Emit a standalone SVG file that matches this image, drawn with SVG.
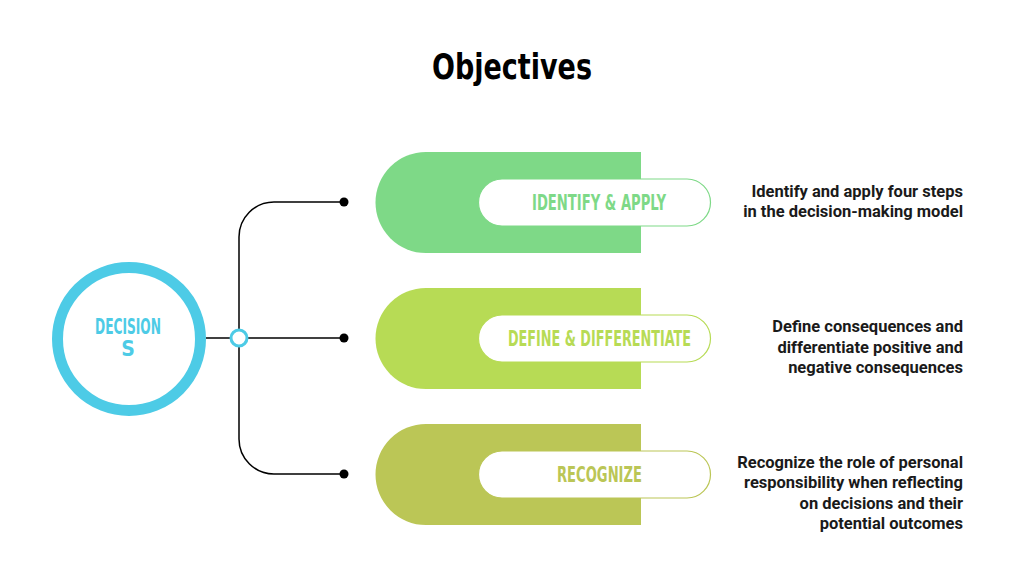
<svg xmlns="http://www.w3.org/2000/svg" width="1024" height="576" viewBox="0 0 1024 576">
<style>
.title{font-family:"Liberation Sans Narrow","DejaVu Sans Condensed","Liberation Sans",sans-serif;font-weight:bold;font-size:35px;fill:#000}
.lbl{font-family:"Liberation Sans Narrow","DejaVu Sans Condensed","Liberation Sans",sans-serif;font-weight:bold;font-size:21px;text-anchor:middle}
.desc{font-family:Roboto,"Liberation Sans",sans-serif;font-weight:bold;font-size:16.5px;fill:#1a1a1a;text-anchor:end}
.pill{fill:#fff;stroke-width:1.2}
.conn{fill:none;stroke:#000;stroke-width:1.5}
.dot{fill:#000}
</style>
<rect width="1024" height="576" fill="#fff"/>
<text class="title" x="512" y="79" text-anchor="middle" textLength="160" lengthAdjust="spacingAndGlyphs">Objectives</text>

<g id="connectors">
<path class="conn" d="M344,202 H274 A35,35 0 0 0 239,237 V439 A35,35 0 0 0 274,474 H344"/>
<path class="conn" d="M206,338 H344"/>
<circle class="dot" cx="344" cy="202" r="4.5"/>
<circle class="dot" cx="344" cy="338" r="4.5"/>
<circle class="dot" cx="344" cy="474" r="4.5"/>
<circle cx="239" cy="338" r="8" fill="#fff" stroke="#4dcbe6" stroke-width="3"/>
</g>

<g id="decisions">
<circle cx="129" cy="339" r="71.5" fill="#fff" stroke="#4dcbe6" stroke-width="11"/>
<text class="lbl" x="128" y="334" fill="#4dcbe6" font-size="18" textLength="66" lengthAdjust="spacingAndGlyphs">DECISION</text>
<text class="lbl" x="128" y="356" fill="#4dcbe6" font-size="18">S</text>
</g>

<g id="identify">
<path d="M426,152 H641 V253 H426 A50.5,50.5 0 0 1 426,152 Z" fill="#7ed987"/>
<rect class="pill" x="478.5" y="179" width="232" height="47" rx="23.5" stroke="#7ed987"/>
<text class="lbl" x="599" y="210" fill="#7ed987" textLength="134" lengthAdjust="spacingAndGlyphs">IDENTIFY &amp; APPLY</text>
<text class="desc" x="963" y="197">Identify and apply four steps</text>
<text class="desc" x="963" y="217">in the decision-making model</text>
</g>

<g id="define">
<path d="M426,288 H641 V389 H426 A50.5,50.5 0 0 1 426,288 Z" fill="#b7db55"/>
<rect class="pill" x="478.5" y="315" width="232" height="47" rx="23.5" stroke="#b7db55"/>
<text class="lbl" x="599.5" y="346" fill="#b7db55" textLength="183" lengthAdjust="spacingAndGlyphs">DEFINE &amp; DIFFERENTIATE</text>
<text class="desc" x="963" y="332">Define consequences and</text>
<text class="desc" x="963" y="353">differentiate positive and</text>
<text class="desc" x="963" y="373">negative consequences</text>
</g>

<g id="recognize">
<path d="M426,424 H641 V525 H426 A50.5,50.5 0 0 1 426,424 Z" fill="#bbc656"/>
<rect class="pill" x="478.5" y="451" width="232" height="47" rx="23.5" stroke="#bbc656"/>
<text class="lbl" x="599.5" y="482" fill="#bbc656" textLength="85" lengthAdjust="spacingAndGlyphs">RECOGNIZE</text>
<text class="desc" x="963" y="468">Recognize the role of personal</text>
<text class="desc" x="963" y="488">responsibility when reflecting</text>
<text class="desc" x="963" y="509">on decisions and their</text>
<text class="desc" x="963" y="529">potential outcomes</text>
</g>
</svg>
